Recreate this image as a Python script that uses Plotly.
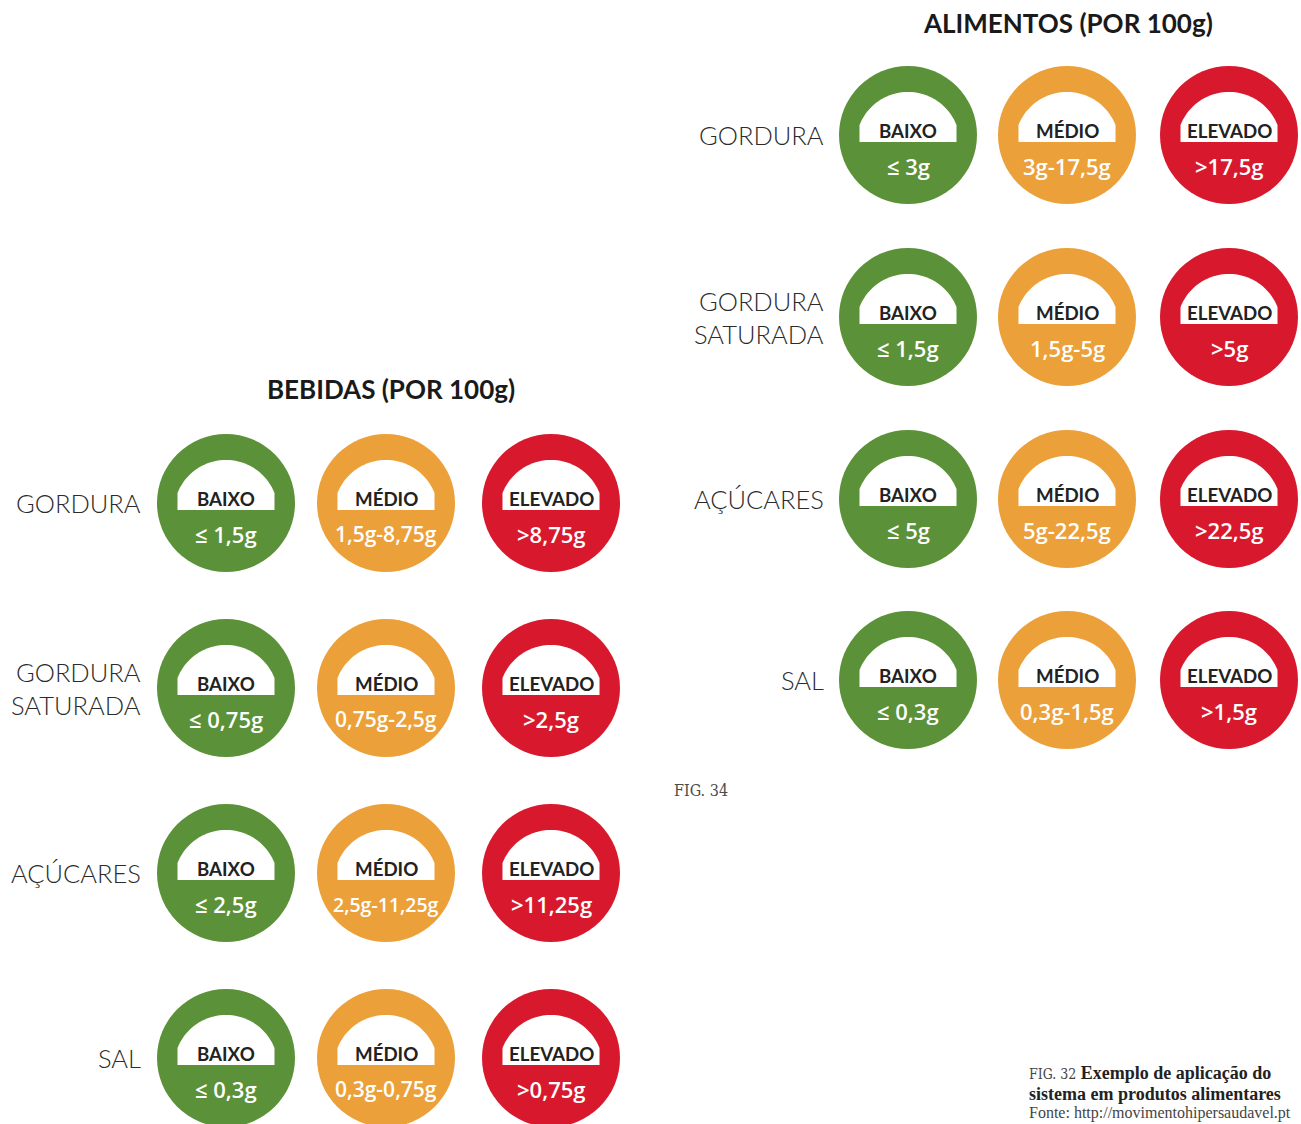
import plotly.graph_objects as go
import math

# ---------------- data ----------------
levels = ["BAIXO", "MÉDIO", "ELEVADO"]
row_labels = ["GORDURA", "GORDURA<br>SATURADA", "AÇÚCARES", "SAL"]

alimentos_title = "ALIMENTOS (POR 100g)"
alimentos_baixo = ["≤ 3g", "≤ 1,5g", "≤ 5g", "≤ 0,3g"]
alimentos_medio = ["3g-17,5g", "1,5g-5g", "5g-22,5g", "0,3g-1,5g"]
alimentos_elevado = [">17,5g", ">5g", ">22,5g", ">1,5g"]

bebidas_title = "BEBIDAS (POR 100g)"
bebidas_baixo = ["≤ 1,5g", "≤ 0,75g", "≤ 2,5g", "≤ 0,3g"]
bebidas_medio = ["1,5g-8,75g", "0,75g-2,5g", "2,5g-11,25g", "0,3g-0,75g"]
bebidas_elevado = [">8,75g", ">2,5g", ">11,25g", ">0,75g"]

level_colors = ["#5b9138", "#eca03a", "#d8192d"]

W, H = 1301, 1124
R = 69
FONT = "Lato"
VFONT = "Open Sans"

fig = go.Figure()
shapes = []
annotations = []


def dome_path(cx, cy):
    # white dome: flattened arc on top + short straight sides
    hw = 48.5
    y_side_top = cy - 10
    y_bottom = cy + 7
    top = cy - 43
    sag = y_side_top - top
    rr = (hw ** 2 + sag ** 2) / (2 * sag)
    ccy = top + rr
    a0 = math.atan2(y_side_top - ccy, -hw)
    a1 = math.atan2(y_side_top - ccy, hw)
    if a1 < a0:
        a1 += 2 * math.pi
    n = 40
    path = f"M {cx - hw},{y_bottom} L {cx - hw},{y_side_top} "
    for i in range(n + 1):
        a = a0 + (a1 - a0) * i / n
        path += f"L {cx + rr * math.cos(a):.2f},{ccy + rr * math.sin(a):.2f} "
    path += f"L {cx + hw},{y_bottom} Z"
    return path


def value_size(t):
    n = len(t)
    if n >= 11:
        return 19.5
    if n == 10:
        return 21
    return 22


def panel(title, title_xy, col_x, row_y, label_x, vals):
    annotations.append(dict(x=title_xy[0], y=title_xy[1], text=title,
                            showarrow=False, xref="x", yref="y",
                            font=dict(family=FONT, size=26, color="#1a1a1a", weight=700)))
    for r, lab in enumerate(row_labels):
        annotations.append(dict(x=label_x, y=row_y[r], text=lab, showarrow=False,
                                xref="x", yref="y", xanchor="right", align="right",
                                font=dict(family=FONT, size=25.5, color="#2b2b2b", weight=300)))
        for c in range(3):
            cx, cy = col_x[c], row_y[r]
            shapes.append(dict(type="circle", xref="x", yref="y",
                               x0=cx - R, x1=cx + R, y0=cy - R, y1=cy + R,
                               fillcolor=level_colors[c], line=dict(width=0), layer="below"))
            shapes.append(dict(type="path", xref="x", yref="y", path=dome_path(cx, cy),
                               fillcolor="white", line=dict(width=0), layer="below"))
            annotations.append(dict(x=cx, y=cy - 4, text=f"<b>{levels[c]}</b>", showarrow=False,
                                    xref="x", yref="y",
                                    font=dict(family=FONT, size=18.7, color="#222222")))
            v = vals[c][r]
            annotations.append(dict(x=cx, y=cy + 31, text=v, showarrow=False,
                                    xref="x", yref="y",
                                    font=dict(family=VFONT, size=value_size(v), color="white", weight=600)))


panel(alimentos_title, (1068, 23), [908, 1067, 1229], [135, 317, 499, 680], 826,
      [alimentos_baixo, alimentos_medio, alimentos_elevado])
panel(bebidas_title, (391, 389), [226, 386, 551], [503, 688, 873, 1058], 143,
      [bebidas_baixo, bebidas_medio, bebidas_elevado])

# figure captions
annotations.append(dict(x=701, y=790, text="FIG. 34", showarrow=False, xref="x", yref="y",
                        font=dict(family="DejaVu Serif Condensed", size=16, color="#4a4a4a")))
cap_font = "Liberation Serif"
annotations.append(dict(x=1027, y=1073, xanchor="left",
                        text='<span style="font-family:DejaVu Serif Condensed;font-size:14px;color:#444">FIG. 32</span> <b>Exemplo de aplicação do</b>',
                        showarrow=False, xref="x", yref="y",
                        font=dict(family=cap_font, size=18, color="#222222")))
annotations.append(dict(x=1027, y=1094, xanchor="left", text="<b>sistema em produtos alimentares</b>",
                        showarrow=False, xref="x", yref="y",
                        font=dict(family=cap_font, size=18, color="#222222")))
annotations.append(dict(x=1027, y=1113, xanchor="left", text="Fonte: http://movimentohipersaudavel.pt",
                        showarrow=False, xref="x", yref="y",
                        font=dict(family=cap_font, size=16, color="#444444")))

fig.update_layout(
    width=W, height=H,
    margin=dict(l=0, r=0, t=0, b=0),
    paper_bgcolor="white", plot_bgcolor="white",
    xaxis=dict(range=[0, W], visible=False, fixedrange=True),
    yaxis=dict(range=[H, 0], visible=False, fixedrange=True),
    shapes=shapes, annotations=annotations, showlegend=False,
)
fig.write_html(
    "out.html",
    config={"displayModeBar": False},
    post_script="document.body.style.margin='0';document.body.style.overflow='hidden';"
                "document.documentElement.style.overflow='hidden';",
)
